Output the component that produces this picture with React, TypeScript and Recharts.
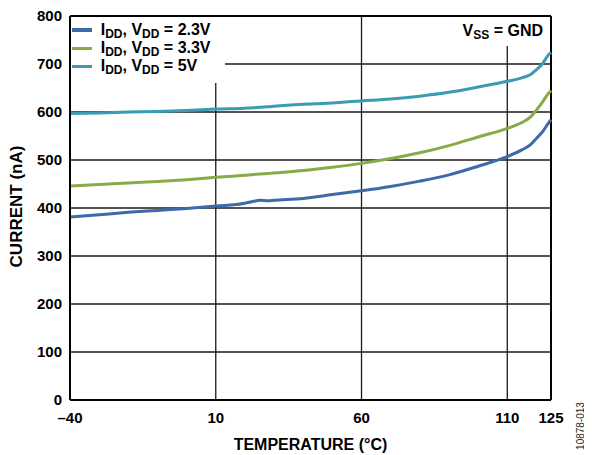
import React from "react";
import { LineChart, Line, XAxis, YAxis, CartesianGrid, ReferenceLine, Label } from "recharts";

const temps = [-40, -30, -20, -10, 0, 10, 20, 23, 25, 28, 30, 40, 50, 60, 70, 80, 90, 100, 110, 115, 118, 120, 122, 124, 125];
const idd23 = [381, 386, 391, 395, 399, 404, 410, 414, 416, 415, 416, 420, 428, 436, 445, 456, 469, 487, 507, 521, 532, 545, 558, 576, 584];
const idd33 = [446, 449, 452, 455, 459, 464, 468, 470, 471, 472, 473, 478, 485, 493, 503, 515, 530, 548, 566, 578, 590, 604, 620, 638, 645];
const idd5 = [597, 598, 600, 601, 603, 606, 608, 609, 610, 611, 612, 616, 619, 623, 627, 633, 641, 652, 664, 671, 678, 688, 700, 718, 724];

const xTicks = [-40, 10, 60, 110, 125];
const yTicks = [0, 100, 200, 300, 400, 500, 600, 700, 800];

const seriesKeys = ["v23", "v33", "v5"];
const seriesVdd = ["2.3V", "3.3V", "5V"];
const seriesColors = ["#3d6aa9", "#88ab48", "#3a9bb3"];

const data = temps.map((t, i) => ({ t, v23: idd23[i], v33: idd33[i], v5: idd5[i] }));

const FONT = '"Liberation Sans", Arial, Helvetica, sans-serif';

const subStyle: React.CSSProperties = {
  fontSize: 12,
  position: "relative",
  top: 3,
  verticalAlign: "baseline",
};

const fmtX = (v: number) => (v < 0 ? "\u2013" + Math.abs(v) : String(v));

export default function App() {
  return (
    <div style={{ position: "relative", width: 576, height: 446, fontFamily: FONT }}>
      <LineChart width={576} height={446} data={data} margin={{ top: 8, right: 33, left: 0, bottom: 0 }}>
        <CartesianGrid stroke="#1a1a1a" strokeWidth={1.3} />
        <XAxis
          dataKey="t"
          type="number"
          domain={[-40, 125]}
          ticks={xTicks}
          tickFormatter={fmtX}
          interval={0}
          height={54}
          tickLine={false}
          tickMargin={6}
          axisLine={{ stroke: "#000", strokeWidth: 2 }}
          tick={{ fill: "#000", fontSize: 15, fontWeight: 700, fontFamily: FONT }}
        >
          <Label
            value="TEMPERATURE (°C)"
            position="insideBottom"
            offset={4}
            style={{ fill: "#000", fontSize: 16, fontWeight: 700, fontFamily: FONT }}
          />
        </XAxis>
        <YAxis
          type="number"
          domain={[0, 800]}
          ticks={yTicks}
          interval={0}
          width={62}
          tickLine={false}
          axisLine={{ stroke: "#000", strokeWidth: 2 }}
          tick={{ fill: "#000", fontSize: 15, fontWeight: 700, fontFamily: FONT }}
        >
          <Label
            content={() => (
              <text
                x={8.5}
                y={198.5}
                transform="rotate(-90, 8.5, 198.5)"
                textAnchor="middle"
                dominantBaseline="central"
                style={{ fill: "#000", fontSize: 17, fontWeight: 700, fontFamily: FONT }}
              >
                CURRENT (nA)
              </text>
            )}
          />
        </YAxis>
        <ReferenceLine y={800} stroke="#000" strokeWidth={2} />
        <ReferenceLine x={125} stroke="#000" strokeWidth={2} />
        {seriesKeys.map((k, i) => (
          <Line
            key={k}
            type="monotone"
            dataKey={k}
            stroke={seriesColors[i]}
            strokeWidth={3}
            dot={false}
            isAnimationActive={false}
          />
        ))}
      </LineChart>

      {/* legend */}
      <div
        style={{
          position: "absolute",
          left: 63,
          top: 9,
          width: 154,
          height: 66,
          background: "#fff",
        }}
      >
        {seriesKeys.map((k, i) => (
          <div
            key={k}
            style={{
              position: "absolute",
              left: 0,
              top: 3.8 + i * 18.3,
              height: 18,
              lineHeight: "18px",
              whiteSpace: "nowrap",
              fontSize: 16,
              fontWeight: 700,
              color: "#000",
            }}
          >
            <span
              style={{
                position: "absolute",
                left: 1.3,
                top: 7.5,
                width: 20,
                height: 3.5,
                background: seriesColors[i],
              }}
            />
            <span style={{ position: "absolute", left: 29.7, top: 0 }}>
              I<span style={subStyle}>DD</span>, V<span style={subStyle}>DD</span> = {seriesVdd[i]}
            </span>
          </div>
        ))}
      </div>

      {/* annotation */}
      <div
        style={{
          position: "absolute",
          left: 447,
          top: 9,
          width: 94,
          height: 29,
          background: "#fff",
        }}
      >
        <div
          style={{
            position: "absolute",
            right: 6,
            top: 5.2,
            height: 18,
            lineHeight: "18px",
            whiteSpace: "nowrap",
            fontSize: 16,
            fontWeight: 700,
            color: "#000",
          }}
        >
          V<span style={subStyle}>SS</span> = GND
        </div>
      </div>

      {/* figure id */}
      <div
        style={{
          position: "absolute",
          left: 573 - 40,
          top: 418 - 6,
          width: 80,
          height: 12,
          lineHeight: "12px",
          textAlign: "center",
          fontSize: 10,
          color: "#222",
          transform: "rotate(-90deg)",
          whiteSpace: "nowrap",
        }}
      >
        10878-013
      </div>
    </div>
  );
}
